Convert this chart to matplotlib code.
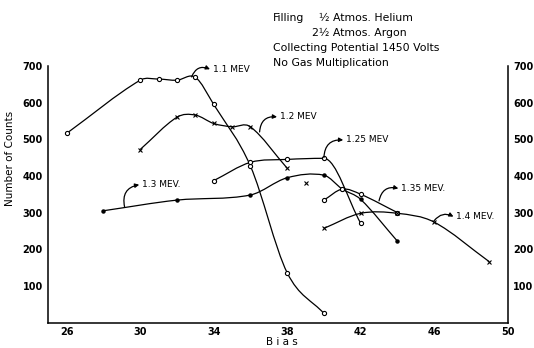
import matplotlib
matplotlib.use("Agg")
import matplotlib.pyplot as plt
import numpy as np
from matplotlib.path import Path
from matplotlib.patches import PathPatch

# Bias vs number of counts
bias_11 = [26, 30, 31, 32, 33, 34, 36, 38, 40]
counts_11 = [516, 661, 664, 661, 669, 595, 427, 136, 25]

bias_12 = [30, 32, 33, 34, 35, 36, 38]
counts_12 = [472, 560, 566, 543, 534, 534, 421]

bias_125 = [34, 36, 38, 40, 42]
counts_125 = [387, 437, 445, 448, 271]

bias_13 = [28, 32, 36, 38, 40, 41, 42, 44]
counts_13 = [305, 334, 348, 395, 402, 364, 336, 222]

bias_135 = [40, 41, 42, 44]
counts_135 = [334, 364, 350, 300]

bias_14 = [40, 42, 44, 46, 49]
counts_14 = [257, 298, 298, 274, 166]

# lone cross that sits below the 1.3 MeV curve
stray_bias = [39]
stray_counts = [381]

x_ticks = [26, 30, 34, 38, 42, 46, 50]
y_ticks = [100, 200, 300, 400, 500, 600, 700]


def smooth_path(xs, ys, flat_peaks=()):
    # cubic hermite through the points (central differences), as bezier segments
    x = np.asarray(xs, float)
    y = np.asarray(ys, float)
    h = np.diff(x)
    d = np.diff(y) / h
    m = np.zeros_like(y)
    m[0], m[-1] = d[0], d[-1]
    for i in range(1, len(y) - 1):
        m[i] = (y[i + 1] - y[i - 1]) / (x[i + 1] - x[i - 1])
    for i in flat_peaks:
        m[i] = 0.0
    verts = [(x[0], y[0])]
    codes = [Path.MOVETO]
    for i in range(len(x) - 1):
        verts += [(x[i] + h[i] / 3, y[i] + m[i] * h[i] / 3),
                  (x[i + 1] - h[i] / 3, y[i + 1] - m[i + 1] * h[i] / 3),
                  (x[i + 1], y[i + 1])]
        codes += [Path.CURVE4] * 3
    return Path(verts, codes)


fig = plt.figure(figsize=(5.34, 3.48), dpi=100)
ax = fig.add_axes([0.0904, 0.073, 0.8603, 0.7376])

series = [
    (bias_11, counts_11, "o", ()),
    (bias_12, counts_12, "x", ()),
    (bias_125, counts_125, "o", (3,)),
    (bias_13, counts_13, ".", ()),
    (bias_135, counts_135, "o", ()),
    (bias_14, counts_14, "x", ()),
]
for bx, cy, mk, flat in series:
    ax.add_patch(PathPatch(smooth_path(bx, cy, flat), fill=False, ec="black", lw=0.9))
    if mk == "o":
        ax.plot(bx, cy, ls="none", marker="o", ms=3, mfc="white", mec="black", mew=0.8)
    elif mk == "x":
        ax.plot(bx, cy, ls="none", marker="x", ms=3, color="black", mew=0.8)
    else:
        ax.plot(bx, cy, ls="none", marker="o", ms=2.2, color="black")
ax.plot(stray_bias, stray_counts, ls="none", marker="x", ms=3, color="black", mew=0.8)

ax.set_xlim(25, 50)
ax.set_ylim(0, 700)
ax.set_xticks(x_ticks)
ax.set_yticks(y_ticks)
ax.spines["top"].set_visible(False)
for s in ["left", "right", "bottom"]:
    ax.spines[s].set_linewidth(1.1)
ax.tick_params(axis="both", length=0, labelsize=7)
ax.tick_params(axis="y", right=True, labelright=True, pad=4)
ax.tick_params(axis="x", pad=3)
for lab in ax.get_xticklabels() + ax.get_yticklabels():
    lab.set_fontweight("bold")

fig.text(0.019, 0.545, "Number of Counts", rotation=90, ha="center", va="center", fontsize=7.5)
fig.text(0.528, 0.003, "B i a s", ha="center", va="bottom", fontsize=7.5)

# curve labels with hand-drawn style arrows
labels = [
    ("1.1 MEV", (32.8, 670), (33.8, 691), -0.5),
    ("1.2 MEV", (36.5, 520), (37.45, 561), -0.5),
    ("1.25 MEV", (40.0, 450), (41.05, 498), -0.5),
    ("1.3 MEV.", (29.15, 316), (29.95, 376), -0.5),
    ("1.35 MEV.", (43.0, 332), (44.05, 366), -0.5),
    ("1.4 MEV.", (46.0, 278), (47.05, 289), -0.4),
]
for txt, tail, head, rad in labels:
    ax.annotate("", xy=head, xytext=tail,
                arrowprops=dict(arrowstyle="-|>", color="black", lw=0.9,
                                mutation_scale=6, shrinkA=0, shrinkB=0,
                                connectionstyle=f"arc3,rad={rad}"))
    ax.text(head[0] + 0.15, head[1], txt, fontsize=6.5, va="center", ha="left")

# filling notes at the top
fig.text(273 / 534, 1 - 18 / 348, "Filling", fontsize=7.8, va="center")
fig.text(319 / 534, 1 - 18 / 348, "½ Atmos. Helium", fontsize=7.8, va="center")
fig.text(312 / 534, 1 - 33 / 348, "2½ Atmos. Argon", fontsize=7.8, va="center")
fig.text(273 / 534, 1 - 48 / 348, "Collecting Potential 1450 Volts", fontsize=7.8, va="center")
fig.text(273 / 534, 1 - 63 / 348, "No Gas Multiplication", fontsize=7.8, va="center")

fig.savefig("out.png", dpi=100)
